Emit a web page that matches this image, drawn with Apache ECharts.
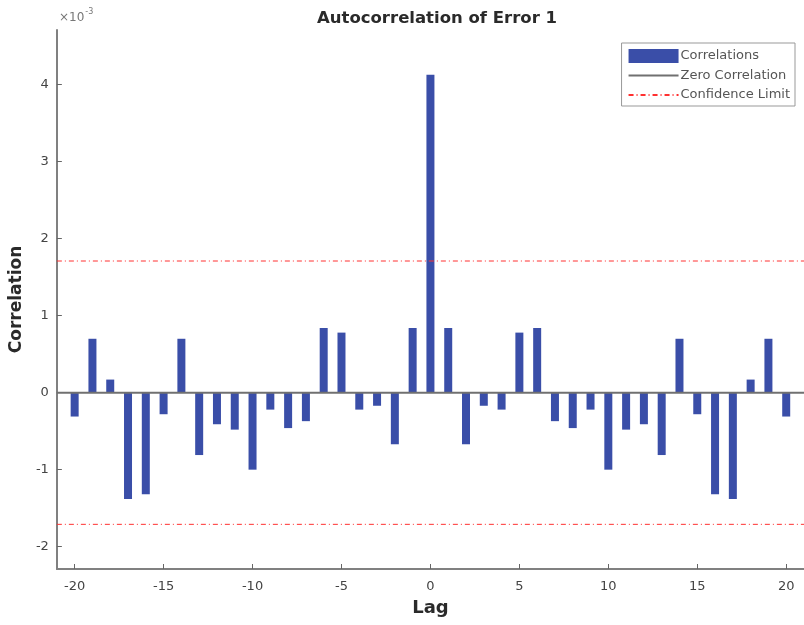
<!DOCTYPE html>
<html>
<head>
<meta charset="utf-8">
<script src="https://cdn.jsdelivr.net/npm/echarts@6/dist/echarts.min.js"></script>
<style>html,body{margin:0;padding:0;background:#fff}#c{width:804px;height:625px}</style>
</head>
<body>
<div id="c"></div>
<script>
// Lags and autocorrelation values (units of 1e-3)
const lags = [-20,-19,-18,-17,-16,-15,-14,-13,-12,-11,-10,-9,-8,-7,-6,-5,-4,-3,-2,-1,0,1,2,3,4,5,6,7,8,9,10,11,12,13,14,15,16,17,18,19,20];
const correlations = [-0.31,0.70,0.17,-1.38,-1.32,-0.28,0.70,-0.81,-0.41,-0.48,-1.00,-0.22,-0.46,-0.37,0.84,0.78,-0.22,-0.17,-0.67,0.84,4.13,0.84,-0.67,-0.17,-0.22,0.78,0.84,-0.37,-0.46,-0.22,-1.00,-0.48,-0.41,-0.81,0.70,-0.28,-1.32,-1.38,0.17,0.70,-0.31];
const confidenceLimit = 1.71;
const xRange = [-21, 21];
const yRange = [-2.29, 4.71];
const xTicks = [-20,-15,-10,-5,0,5,10,15,20];
const yTicks = [-2,-1,0,1,2,3,4];

const chart = echarts.init(document.getElementById('c'), null, {renderer:'canvas'});
const font = 'DejaVu Sans, Verdana, sans-serif';
const axisColor = '#808080';
chart.setOption({
  animation: false,
  backgroundColor: '#fff',
  title: {
    text: 'Autocorrelation of Error 1',
    left: 432, top: 5, textAlign: 'center',
    textStyle: {fontFamily: font, fontSize: 16.5, fontWeight: 'bold', color: '#2a2a2a'}
  },
  graphic: [{
    type: 'text', left: 59, top: 8,
    style: {
      text: '{b|×10}{s|-3}',
      rich: {
        b: {fontFamily: font, fontSize: 12, fill: '#777', verticalAlign: 'bottom'},
        s: {fontFamily: font, fontSize: 8, fill: '#777', padding: [0,0,8,1]}
      }
    }
  }],
  legend: {
    orient: 'vertical', right: 9, top: 43,
    backgroundColor: '#fff',
    borderColor: '#999', borderWidth: 1,
    padding: [6, 5, 4, 6],
    itemGap: 5.5, itemWidth: 50, itemHeight: 14,
    textStyle: {fontFamily: font, fontSize: 13, lineHeight: 14, color: '#555', padding: [0,0,0,-3]},
    data: [
      {name: 'Correlations', icon: 'rect'},
      {name: 'Zero Correlation', itemStyle: {opacity: 0}},
      {name: 'Confidence Limit', itemStyle: {opacity: 0}}
    ]
  },
  grid: {left: 56, top: 30, width: 752.6, bottom: 56},
  xAxis: {
    type: 'value', min: xRange[0], max: xRange[1],
    name: 'Lag', nameLocation: 'middle', nameGap: 30,
    nameTextStyle: {fontFamily: font, fontSize: 18, fontWeight: 'bold', color: '#2a2a2a'},
    axisLine: {onZero: false, lineStyle: {color: axisColor, width: 2}},
    axisTick: {inside: true, length: 5, customValues: xTicks, lineStyle: {color: '#666'}},
    axisLabel: {customValues: xTicks, fontFamily: font, fontSize: 13, color: '#444', margin: 11},
    splitLine: {show: false}
  },
  yAxis: {
    type: 'value', min: yRange[0], max: yRange[1],
    name: 'Correlation', nameLocation: 'middle', nameGap: 28, nameRotate: 90,
    nameTextStyle: {fontFamily: font, fontSize: 17, fontWeight: 'bold', color: '#2a2a2a'},
    axisLine: {show: true, onZero: false, lineStyle: {color: axisColor, width: 2}},
    axisTick: {show: true, inside: true, length: 5, customValues: yTicks, lineStyle: {color: '#666'}},
    axisLabel: {customValues: yTicks, fontFamily: font, fontSize: 13, color: '#444', margin: 8},
    splitLine: {show: false}
  },
  series: [
    {
      name: 'Correlations', type: 'bar', barWidth: 8,
      itemStyle: {color: '#3a4ea8'},
      data: lags.map((l, i) => [l, correlations[i]]),
      z: 2
    },
    {
      name: 'Zero Correlation', type: 'line', symbol: 'none',
      lineStyle: {color: '#707070', width: 2},
      itemStyle: {color: '#333'},
      data: [[xRange[0], 0], [xRange[1], 0]], z: 3
    },
    {
      name: 'Confidence Limit', type: 'line', symbol: 'none',
      lineStyle: {color: '#ff3030', width: 1, type: [5, 3, 1, 3]},
      itemStyle: {color: '#ff3030'},
      data: [[xRange[0], confidenceLimit], [xRange[1], confidenceLimit]], z: 4
    },
    {
      name: 'Confidence Limit', type: 'line', symbol: 'none',
      lineStyle: {color: '#ff3030', width: 1, type: [5, 3, 1, 3]},
      itemStyle: {color: '#ff3030'},
      data: [[xRange[0], -confidenceLimit], [xRange[1], -confidenceLimit]], z: 4
    }
  ]
});
</script>
</body>
</html>
